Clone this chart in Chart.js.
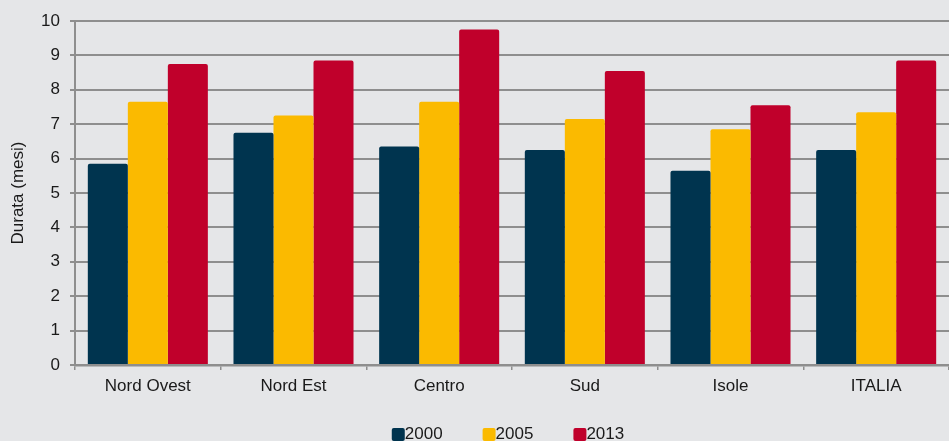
<!DOCTYPE html>
<html>
<head>
<meta charset="utf-8">
<script src="https://cdn.jsdelivr.net/npm/chart.js@4"></script>
<style>
  html, body { margin: 0; padding: 0; background: #E5E6E8; }
  #wrap { width: 949px; height: 441px; }
</style>
</head>
<body>
<div id="wrap"><canvas id="chart" width="949" height="441"></canvas></div>
<script>
// Durata media (mesi) per ripartizione territoriale
const categories = ['Nord Ovest', 'Nord Est', 'Centro', 'Sud', 'Isole', 'ITALIA'];
const years = ['2000', '2005', '2013'];
const values2000 = [5.85, 6.75, 6.35, 6.25, 5.65, 6.25];
const values2005 = [7.65, 7.25, 7.65, 7.15, 6.85, 7.35];
const values2013 = [8.75, 8.85, 9.75, 8.55, 7.55, 8.85];
const yTicks = [0, 1, 2, 3, 4, 5, 6, 7, 8, 9, 10];

const colors = ['#00344F', '#FBBA00', '#C0002B'];
const FONT = "'Liberation Sans', Arial, sans-serif";
const GRID = '#8E8E8E';

const background = {
  id: 'background',
  beforeDraw(chart) {
    const c = chart.ctx;
    c.save();
    c.fillStyle = '#E5E6E8';
    c.fillRect(0, 0, chart.width, chart.height);
    c.restore();
  }
};

// legend row: square swatch followed directly by the label
const bottomLegend = {
  id: 'bottomLegend',
  afterDraw(chart) {
    const c = chart.ctx;
    const box = 13, gap = 40;
    c.save();
    c.font = '17px ' + FONT;
    c.textBaseline = 'middle';
    const items = chart.data.datasets.map(ds => ({
      label: ds.label, color: ds.backgroundColor,
      w: box + c.measureText(ds.label).width
    }));
    const total = items.reduce((s, it) => s + it.w, 0) + gap * (items.length - 1);
    const area = chart.chartArea;
    let x = (area.left + area.right) / 2 - 4 - total / 2;
    const yc = 434;
    items.forEach(it => {
      c.fillStyle = it.color;
      c.beginPath();
      c.roundRect(x, yc - 6, box, box, 2);
      c.fill();
      c.fillStyle = '#1a1a1a';
      c.fillText(it.label, x + box, yc);
      x += it.w + gap;
    });
    c.restore();
  }
};

const seriesValues = [values2000, values2005, values2013];

new Chart(document.getElementById('chart'), {
  type: 'bar',
  data: {
    labels: categories,
    datasets: years.map((y, i) => ({
      label: y,
      data: seriesValues[i],
      backgroundColor: colors[i],
      borderWidth: 0,
      borderRadius: { topLeft: 2, topRight: 2, bottomLeft: 0, bottomRight: 0 },
      borderSkipped: 'bottom',
      categoryPercentage: 0.824,
      barPercentage: 1.0
    }))
  },
  options: {
    responsive: false,
    animation: false,
    devicePixelRatio: 1,
    layout: { padding: { top: 21, right: 0, bottom: 0, left: 0 } },
    plugins: {
      legend: { display: false },
      tooltip: { enabled: false }
    },
    scales: {
      x: {
        z: 1,
        grid: {
          offset: true,
          drawOnChartArea: false,
          drawTicks: true,
          tickLength: 5,
          color: GRID,
          lineWidth: 1.5
        },
        border: { display: true, color: GRID, width: 2.5 },
        ticks: {
          color: '#1a1a1a',
          font: { family: FONT, size: 17 },
          padding: 6,
          maxRotation: 0
        },
        afterFit(scale) { scale.height = 76; }
      },
      y: {
        min: 0,
        max: 10,
        afterBuildTicks(scale) { scale.ticks = yTicks.map(v => ({ value: v })); },
        grid: {
          color: GRID,
          lineWidth: 2,
          drawTicks: true,
          tickLength: 5
        },
        border: { display: true, color: GRID, width: 2 },
        ticks: {
          color: '#1a1a1a',
          font: { family: FONT, size: 17 },
          padding: 10
        },
        title: {
          display: true,
          text: 'Durata (mesi)',
          color: '#1a1a1a',
          font: { family: FONT, size: 17 },
          padding: { top: 8, bottom: 0 }
        },
        afterFit(scale) { scale.width = 75; }
      }
    }
  },
  plugins: [background, bottomLegend]
});
</script>
</body>
</html>
